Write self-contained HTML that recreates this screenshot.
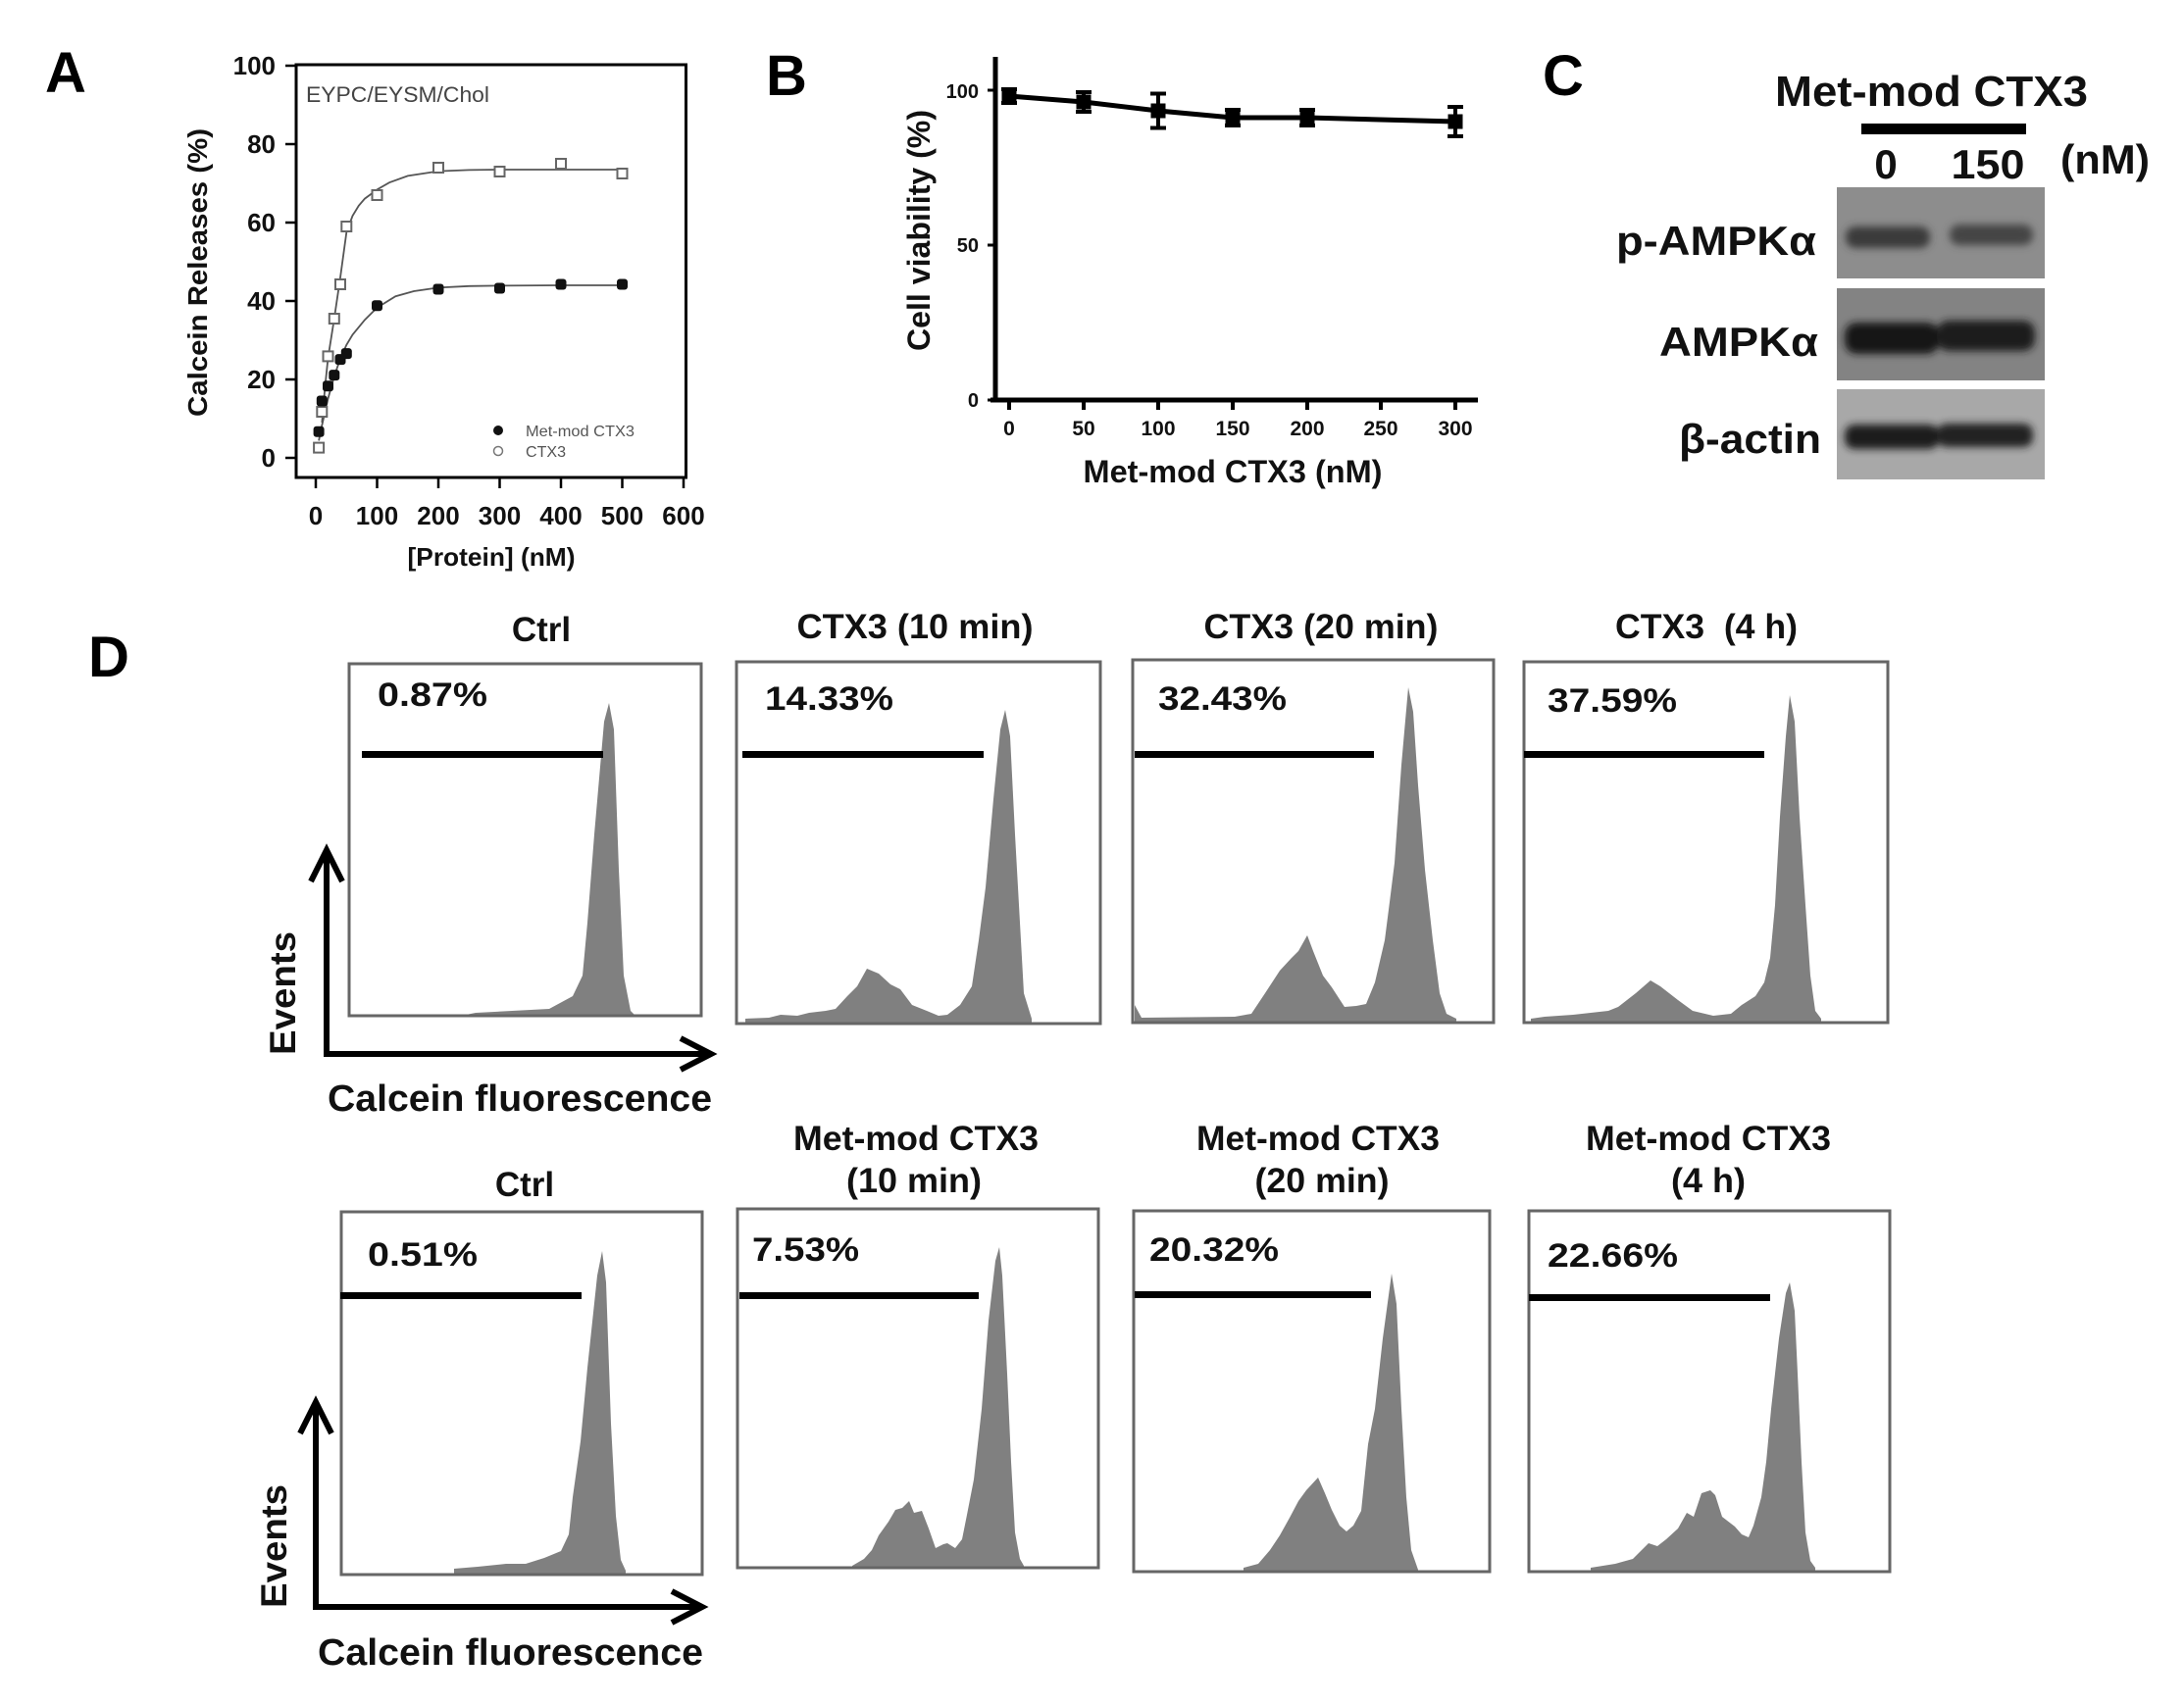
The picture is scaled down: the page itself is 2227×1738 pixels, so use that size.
<!DOCTYPE html>
<html>
<head>
<meta charset="utf-8">
<style>
html,body{margin:0;padding:0;background:#fff;}
svg{display:block;}
text{font-family:"Liberation Sans",Arial,sans-serif;}
.b{font-weight:bold;}
</style>
</head>
<body>
<svg width="2227" height="1738" viewBox="0 0 2227 1738" xmlns="http://www.w3.org/2000/svg">
<defs>
<filter id="bl" x="-20%" y="-50%" width="140%" height="200%"><feGaussianBlur stdDeviation="4"/></filter>
<filter id="bl2" x="-10%" y="-10%" width="120%" height="120%"><feGaussianBlur stdDeviation="2"/></filter>
</defs>
<rect width="2227" height="1738" fill="#fff"/>

<!-- Panel letters -->
<text class="b" x="46" y="94" font-size="58">A</text>
<text class="b" x="781" y="97" font-size="58">B</text>
<text class="b" x="1573" y="97" font-size="58">C</text>
<text class="b" x="90" y="690" font-size="58">D</text>

<!-- ============ PANEL A ============ -->
<rect x="302" y="66" width="397.5" height="421" fill="none" stroke="#000" stroke-width="3"/>
<g stroke="#000" stroke-width="2.5">
<line x1="291" y1="67" x2="302" y2="67"/>
<line x1="291" y1="147" x2="302" y2="147"/>
<line x1="291" y1="227" x2="302" y2="227"/>
<line x1="291" y1="307" x2="302" y2="307"/>
<line x1="291" y1="387" x2="302" y2="387"/>
<line x1="291" y1="467" x2="302" y2="467"/>
<line x1="322" y1="487" x2="322" y2="498"/>
<line x1="384.5" y1="487" x2="384.5" y2="498"/>
<line x1="447" y1="487" x2="447" y2="498"/>
<line x1="509.5" y1="487" x2="509.5" y2="498"/>
<line x1="572" y1="487" x2="572" y2="498"/>
<line x1="634.5" y1="487" x2="634.5" y2="498"/>
<line x1="697" y1="487" x2="697" y2="498"/>
</g>
<g class="b" font-size="26" text-anchor="end" fill="#111">
<text x="281" y="76">100</text>
<text x="281" y="156">80</text>
<text x="281" y="236">60</text>
<text x="281" y="316">40</text>
<text x="281" y="396">20</text>
<text x="281" y="476">0</text>
</g>
<g class="b" font-size="26" text-anchor="middle" fill="#111">
<text x="322" y="535">0</text>
<text x="384.5" y="535">100</text>
<text x="447" y="535">200</text>
<text x="509.5" y="535">300</text>
<text x="572" y="535">400</text>
<text x="634.5" y="535">500</text>
<text x="697" y="535">600</text>
</g>
<text class="b" x="501" y="577" font-size="26" text-anchor="middle" textLength="171" lengthAdjust="spacingAndGlyphs" fill="#111">[Protein] (nM)</text>
<text class="b" transform="translate(211,278) rotate(-90)" font-size="28" text-anchor="middle" textLength="294" lengthAdjust="spacingAndGlyphs" fill="#111">Calcein Releases (%)</text>
<text x="312" y="104" font-size="22" fill="#444" textLength="187" lengthAdjust="spacingAndGlyphs">EYPC/EYSM/Chol</text>

<!-- curves -->
<polyline fill="none" stroke="#555" stroke-width="1.8" points="328.3,431 331.4,395 334.5,365 340.8,325 347,283 353.3,237 359.5,220.2 365.8,209.8 372,202.6 384.5,193.4 397,186.2 415.8,179.4 447,174.6 478.3,173.4 509.5,173 634.5,173"/>
<polyline fill="none" stroke="#555" stroke-width="1.8" points="325.1,449.4 328.3,433.8 334.5,406.6 340.8,383.8 347,365.8 353.3,351.8 359.5,341.4 372,326.2 384.5,313.8 403.3,302.2 422,297 447,293.4 478.3,291.8 509.5,291.4 572,291 634.5,291"/>
<!-- open markers CTX3 -->
<g fill="#fff" stroke="#666" stroke-width="2">
<rect x="320.1" y="451.6" width="10" height="10"/>
<rect x="323.3" y="415" width="10" height="10"/>
<rect x="329.5" y="358.4" width="10" height="10"/>
<rect x="335.8" y="320" width="10" height="10"/>
<rect x="342" y="285" width="10" height="10"/>
<rect x="348.3" y="226" width="10" height="10"/>
<rect x="379.5" y="194" width="10" height="10"/>
<rect x="442" y="166" width="10" height="10"/>
<rect x="504.5" y="170" width="10" height="10"/>
<rect x="567" y="162" width="10" height="10"/>
<rect x="629.5" y="172" width="10" height="10"/>
</g>
<!-- filled markers Met-mod -->
<g fill="#111">
<rect x="319.6" y="434.7" width="11" height="11" rx="3"/>
<rect x="322.8" y="403.5" width="11" height="11" rx="3"/>
<rect x="329" y="388.3" width="11" height="11" rx="3"/>
<rect x="335.3" y="377.1" width="11" height="11" rx="3"/>
<rect x="341.5" y="361.1" width="11" height="11" rx="3"/>
<rect x="347.8" y="355.1" width="11" height="11" rx="3"/>
<rect x="379" y="306.3" width="11" height="11" rx="3"/>
<rect x="441.5" y="289.5" width="11" height="11" rx="3"/>
<rect x="504" y="288.5" width="11" height="11" rx="3"/>
<rect x="566.5" y="284.5" width="11" height="11" rx="3"/>
<rect x="629" y="284.5" width="11" height="11" rx="3"/>
</g>
<!-- legend -->
<circle cx="508" cy="439" r="5" fill="#111"/>
<text x="536" y="445" font-size="16" fill="#555" textLength="111" lengthAdjust="spacingAndGlyphs">Met-mod CTX3</text>
<circle cx="508" cy="460" r="4.5" fill="#fff" stroke="#777" stroke-width="1.5"/>
<text x="536" y="466" font-size="16" fill="#555" textLength="41" lengthAdjust="spacingAndGlyphs">CTX3</text>

<!-- ============ PANEL B ============ -->
<line x1="1015" y1="58" x2="1015" y2="410.5" stroke="#000" stroke-width="5"/>
<line x1="1010" y1="408" x2="1507" y2="408" stroke="#000" stroke-width="5"/>
<g stroke="#000" stroke-width="3">
<line x1="1007" y1="92" x2="1015" y2="92"/>
<line x1="1007" y1="250" x2="1015" y2="250"/>
<line x1="1007" y1="408" x2="1015" y2="408"/>
</g>
<g stroke="#000" stroke-width="4">
<line x1="1029" y1="408" x2="1029" y2="418"/>
<line x1="1105" y1="408" x2="1105" y2="418"/>
<line x1="1181" y1="408" x2="1181" y2="418"/>
<line x1="1257" y1="408" x2="1257" y2="418"/>
<line x1="1333" y1="408" x2="1333" y2="418"/>
<line x1="1408" y1="408" x2="1408" y2="418"/>
<line x1="1484" y1="408" x2="1484" y2="418"/>
</g>
<g class="b" font-size="20" text-anchor="end" fill="#111">
<text x="998" y="100">100</text>
<text x="998" y="257">50</text>
<text x="998" y="415">0</text>
</g>
<g class="b" font-size="21" text-anchor="middle" fill="#111">
<text x="1029" y="444">0</text>
<text x="1105" y="444">50</text>
<text x="1181" y="444">100</text>
<text x="1257" y="444">150</text>
<text x="1333" y="444">200</text>
<text x="1408" y="444">250</text>
<text x="1484" y="444">300</text>
</g>
<text class="b" x="1257" y="492" font-size="32" text-anchor="middle" textLength="305" lengthAdjust="spacingAndGlyphs" fill="#111">Met-mod CTX3 (nM)</text>
<text class="b" transform="translate(948,235) rotate(-90)" font-size="32" text-anchor="middle" textLength="246" lengthAdjust="spacingAndGlyphs" fill="#111">Cell viability (%)</text>
<polyline fill="none" stroke="#000" stroke-width="5" stroke-linejoin="round" points="1029,98 1105,104 1181,113 1257,120 1333,120 1484,124"/>
<g stroke="#000" stroke-width="4">
<line x1="1029" y1="91" x2="1029" y2="105"/><line x1="1021" y1="91" x2="1037" y2="91"/><line x1="1021" y1="105" x2="1037" y2="105"/>
<line x1="1105" y1="94" x2="1105" y2="114"/><line x1="1097" y1="94" x2="1113" y2="94"/><line x1="1097" y1="114" x2="1113" y2="114"/>
<line x1="1181" y1="95.5" x2="1181" y2="130.5"/><line x1="1173" y1="95.5" x2="1189" y2="95.5"/><line x1="1173" y1="130.5" x2="1189" y2="130.5"/>
<line x1="1257" y1="112" x2="1257" y2="128"/><line x1="1249" y1="112" x2="1265" y2="112"/><line x1="1249" y1="128" x2="1265" y2="128"/>
<line x1="1333" y1="112" x2="1333" y2="128"/><line x1="1325" y1="112" x2="1341" y2="112"/><line x1="1325" y1="128" x2="1341" y2="128"/>
<line x1="1484" y1="109" x2="1484" y2="139"/><line x1="1476" y1="109" x2="1492" y2="109"/><line x1="1476" y1="139" x2="1492" y2="139"/>
</g>
<g fill="#000">
<rect x="1021.5" y="90.5" width="15" height="15"/>
<rect x="1097.5" y="96.5" width="15" height="15"/>
<rect x="1173.5" y="105.5" width="15" height="15"/>
<rect x="1249.5" y="112.5" width="15" height="15"/>
<rect x="1325.5" y="112.5" width="15" height="15"/>
<rect x="1476.5" y="116.5" width="15" height="15"/>
</g>

<!-- ============ PANEL C ============ -->
<text class="b" x="1810" y="108" font-size="44" textLength="319" lengthAdjust="spacingAndGlyphs" fill="#111">Met-mod CTX3</text>
<rect x="1898" y="126" width="168" height="11" fill="#000"/>
<text class="b" x="1923" y="182" font-size="42" text-anchor="middle" fill="#111">0</text>
<text class="b" x="2027" y="182" font-size="42" text-anchor="middle" textLength="75" lengthAdjust="spacingAndGlyphs" fill="#111">150</text>
<text class="b" x="2101" y="177" font-size="42" textLength="91" lengthAdjust="spacingAndGlyphs" fill="#111">(nM)</text>
<text class="b" x="1852" y="260" font-size="42" text-anchor="end" textLength="204" lengthAdjust="spacingAndGlyphs" fill="#111">p-AMPKα</text>
<text class="b" x="1854" y="363" font-size="42" text-anchor="end" textLength="162" lengthAdjust="spacingAndGlyphs" fill="#111">AMPKα</text>
<text class="b" x="1857" y="462" font-size="42" text-anchor="end" textLength="145" lengthAdjust="spacingAndGlyphs" fill="#111">β-actin</text>

<!-- blot 1 -->
<rect x="1873" y="191" width="212" height="93" fill="#8d8d8d"/>
<g filter="url(#bl)">
<rect x="1882" y="231" width="86" height="22" rx="10" fill="#3a3a3a"/>
<rect x="1988" y="229" width="85" height="21" rx="10" fill="#444"/>
</g>
<!-- blot 2 -->
<rect x="1873" y="294" width="212" height="94" fill="#838383"/>
<g filter="url(#bl)">
<rect x="1881" y="329" width="96" height="32" rx="12" fill="#141414"/>
<rect x="1975" y="327" width="100" height="31" rx="12" fill="#1a1a1a"/>
</g>
<!-- blot 3 -->
<rect x="1873" y="397" width="212" height="92" fill="#a8a8a8"/>
<g filter="url(#bl)">
<rect x="1881" y="433" width="96" height="25" rx="10" fill="#1c1c1c"/>
<rect x="1975" y="432" width="98" height="24" rx="10" fill="#222"/>
</g>

<!-- ============ PANEL D ============ -->
<!-- titles top -->
<g class="b" font-size="35" text-anchor="middle" fill="#111">
<text x="552" y="654">Ctrl</text>
<text x="933" y="651" textLength="241" lengthAdjust="spacingAndGlyphs">CTX3 (10 min)</text>
<text x="1347" y="651" textLength="239" lengthAdjust="spacingAndGlyphs">CTX3 (20 min)</text>
<text x="1740" y="651" textLength="186" lengthAdjust="spacingAndGlyphs" style="white-space:pre">CTX3  (4 h)</text>
</g>
<!-- titles bottom -->
<g class="b" font-size="35" text-anchor="middle" fill="#111">
<text x="535" y="1220">Ctrl</text>
<text x="934" y="1173" textLength="250" lengthAdjust="spacingAndGlyphs">Met-mod CTX3</text>
<text x="1344" y="1173" textLength="248" lengthAdjust="spacingAndGlyphs">Met-mod CTX3</text>
<text x="1742" y="1173" textLength="250" lengthAdjust="spacingAndGlyphs">Met-mod CTX3</text>
<text x="932" y="1216" textLength="138" lengthAdjust="spacingAndGlyphs">(10 min)</text>
<text x="1348" y="1216" textLength="137" lengthAdjust="spacingAndGlyphs">(20 min)</text>
<text x="1742" y="1216" textLength="76" lengthAdjust="spacingAndGlyphs">(4 h)</text>
</g>

<!-- histograms top -->
<g fill="#808080">
<path d="M 470,1036 L 485,1033 L 560,1029 L 584,1016 L 594,995 L 599,941 L 606,851 L 616,736 L 621,717 L 626,744 L 631,887 L 636,995 L 643,1031 L 648,1036 Z"/>
<path d="M 760,1044 L 760,1039 L 784,1038 L 796,1035 L 813,1036 L 825,1033 L 842,1031 L 852,1029 L 864,1016 L 874,1006 L 884,988 L 896,993 L 908,1004 L 918,1009 L 930,1025 L 945,1031 L 957,1036 L 966,1035 L 979,1025 L 991,1006 L 998,959 L 1005,905 L 1013,815 L 1020,744 L 1025,724 L 1030,751 L 1035,851 L 1040,941 L 1044,1013 L 1052,1039 L 1052,1044 Z"/>
<path d="M 1157,1043 L 1157,1025 L 1164,1038 L 1259,1037 L 1276,1034 L 1290,1013 L 1305,990 L 1317,977 L 1324,970 L 1333,954 L 1339,970 L 1349,995 L 1358,1007 L 1371,1027 L 1383,1026 L 1393,1024 L 1402,1002 L 1412,959 L 1417,920 L 1422,880 L 1429,780 L 1436,701 L 1441,726 L 1446,801 L 1453,887 L 1461,959 L 1468,1013 L 1475,1034 L 1485,1039 L 1485,1043 Z"/>
<path d="M 1561,1043 L 1561,1039 L 1575,1037 L 1604,1035 L 1640,1031 L 1650,1027 L 1668,1013 L 1683,1000 L 1693,1006 L 1711,1020 L 1726,1031 L 1747,1036 L 1765,1034 L 1776,1025 L 1790,1016 L 1799,1002 L 1805,977 L 1810,923 L 1815,833 L 1821,751 L 1825,709 L 1830,736 L 1835,833 L 1841,923 L 1846,995 L 1851,1031 L 1857,1039 L 1857,1043 Z"/>
</g>
<!-- histograms bottom -->
<g fill="#808080">
<path d="M 463,1606 L 463,1600 L 487,1598 L 516,1595 L 536,1595 L 555,1589 L 572,1582 L 580,1565 L 584,1527 L 592,1470 L 599,1395 L 609,1301 L 614,1276 L 618,1308 L 623,1452 L 628,1546 L 633,1591 L 638,1602 L 638,1606 Z"/>
<path d="M 869,1599 L 869,1597 L 881,1590 L 889,1581 L 896,1566 L 906,1552 L 913,1540 L 920,1538 L 927,1531 L 932,1543 L 940,1541 L 947,1559 L 954,1579 L 962,1575 L 966,1574 L 974,1579 L 981,1570 L 986,1545 L 993,1509 L 1001,1437 L 1008,1347 L 1015,1286 L 1019,1272 L 1022,1301 L 1027,1401 L 1031,1491 L 1035,1563 L 1040,1590 L 1044,1597 L 1044,1599 Z"/>
<path d="M 1268,1603 L 1268,1599 L 1283,1595 L 1295,1581 L 1305,1566 L 1315,1548 L 1324,1531 L 1332,1520 L 1344,1507 L 1351,1523 L 1358,1540 L 1366,1556 L 1373,1562 L 1380,1556 L 1388,1541 L 1395,1473 L 1402,1437 L 1410,1365 L 1419,1299 L 1424,1330 L 1429,1437 L 1434,1527 L 1439,1581 L 1446,1601 L 1446,1603 Z"/>
<path d="M 1622,1603 L 1622,1599 L 1647,1595 L 1665,1590 L 1674,1581 L 1681,1574 L 1690,1577 L 1699,1570 L 1711,1559 L 1720,1543 L 1727,1547 L 1735,1523 L 1744,1520 L 1749,1525 L 1756,1547 L 1769,1557 L 1776,1565 L 1783,1568 L 1788,1556 L 1796,1527 L 1801,1491 L 1806,1437 L 1814,1365 L 1821,1319 L 1825,1308 L 1830,1337 L 1833,1401 L 1837,1491 L 1841,1563 L 1846,1592 L 1851,1599 L 1851,1603 Z"/>
</g>

<!-- boxes -->
<g fill="none" stroke="#666" stroke-width="3">
<rect x="356" y="677" width="359" height="359"/>
<rect x="751" y="675" width="371" height="369"/>
<rect x="1155" y="673" width="368" height="370"/>
<rect x="1554" y="675" width="371" height="368"/>
<rect x="348" y="1236" width="368" height="370"/>
<rect x="752" y="1233" width="368" height="366"/>
<rect x="1156" y="1235" width="363" height="368"/>
<rect x="1559" y="1235" width="368" height="368"/>
</g>

<!-- gate bars -->
<g fill="#000">
<rect x="369" y="766" width="246" height="7"/>
<rect x="757" y="766" width="246" height="7"/>
<rect x="1157" y="766" width="244" height="7"/>
<rect x="1554" y="766" width="245" height="7"/>
<rect x="347" y="1318" width="246" height="7"/>
<rect x="754" y="1318" width="244" height="7"/>
<rect x="1157" y="1317" width="241" height="7"/>
<rect x="1559" y="1320" width="246" height="7"/>
</g>

<!-- percent labels -->
<g class="b" font-size="34" fill="#111">
<text x="385" y="720" textLength="112" lengthAdjust="spacingAndGlyphs">0.87%</text>
<text x="780" y="724" textLength="131" lengthAdjust="spacingAndGlyphs">14.33%</text>
<text x="1181" y="724" textLength="131" lengthAdjust="spacingAndGlyphs">32.43%</text>
<text x="1578" y="726" textLength="132" lengthAdjust="spacingAndGlyphs">37.59%</text>
<text x="375" y="1291" textLength="112" lengthAdjust="spacingAndGlyphs">0.51%</text>
<text x="767" y="1286" textLength="109" lengthAdjust="spacingAndGlyphs">7.53%</text>
<text x="1172" y="1286" textLength="132" lengthAdjust="spacingAndGlyphs">20.32%</text>
<text x="1578" y="1292" textLength="133" lengthAdjust="spacingAndGlyphs">22.66%</text>
</g>

<!-- arrows top -->
<g fill="none" stroke="#000" stroke-width="6">
<line x1="333" y1="1078" x2="333" y2="869"/>
<line x1="330" y1="1075" x2="723" y2="1075"/>
<polyline points="317,899 333,867 349,899"/>
<polyline points="694,1059 725,1075 694,1091"/>
<line x1="322" y1="1642" x2="322" y2="1432"/>
<line x1="319" y1="1639" x2="714" y2="1639"/>
<polyline points="306,1462 322,1430 338,1462"/>
<polyline points="685,1623 716,1639 685,1655"/>
</g>
<text class="b" transform="translate(301,1013) rotate(-90)" font-size="37" text-anchor="middle" textLength="126" lengthAdjust="spacingAndGlyphs" fill="#111">Events</text>
<text class="b" x="334" y="1133" font-size="38" textLength="392" lengthAdjust="spacingAndGlyphs" fill="#111">Calcein fluorescence</text>
<text class="b" transform="translate(292,1577) rotate(-90)" font-size="37" text-anchor="middle" textLength="126" lengthAdjust="spacingAndGlyphs" fill="#111">Events</text>
<text class="b" x="324" y="1698" font-size="38" textLength="393" lengthAdjust="spacingAndGlyphs" fill="#111">Calcein fluorescence</text>
</svg>
</body>
</html>
